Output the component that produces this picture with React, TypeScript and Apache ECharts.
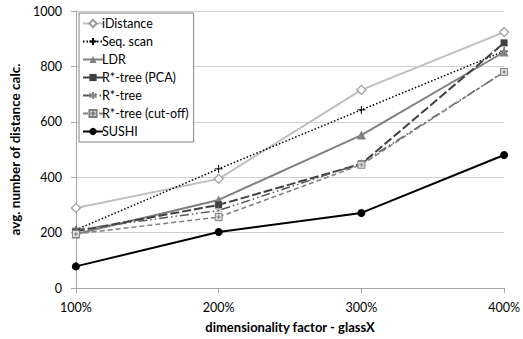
import React, { useEffect, useRef } from "react";
import * as echarts from "echarts";

const categories = ["100%", "200%", "300%", "400%"];
const iDistance = [289, 394, 715, 924];
const seqScan = [210, 430, 643, 855];
const ldr = [195, 318, 552, 852];
const rTreePCA = [205, 300, 448, 885];
const rTree = [210, 280, 450, 780];
const rTreeCutoff = [195, 256, 445, 780];
const sushi = [78, 202, 271, 480];
const yTicks = { min: 0, max: 1000, interval: 200 };

const FONT = "Lato, 'Noto Sans', sans-serif";

export default function App() {
  const ref = useRef<HTMLDivElement>(null);
  useEffect(() => {
    if (!ref.current) return;
    const chart = echarts.init(ref.current, null, { renderer: "svg" });
    const plus = "path://M5,0L5,10M0,5L10,5";
    const star = "path://M5,0L5,10M0,2.5L10,7.5M0,7.5L10,2.5";
    const boxPlus = "path://M0,0L10,0L10,10L0,10ZM5,2L5,8M2,5L8,5";
    const diamond = "path://M5,0L10,5L5,10L0,5Z";
    const mk = (
      name: string,
      data: number[],
      color: string,
      width: number,
      type: any,
      symbol: string,
      size: number,
      itemStyle: any
    ) => ({
      name,
      type: "line",
      data,
      symbol,
      symbolSize: size,
      showAllSymbol: true,
      lineStyle: { color, width, type },
      itemStyle,
      z: 3,
    });
    chart.setOption({
      animation: false,
      textStyle: { fontFamily: FONT },
      grid: { left: 67, right: 16, top: 11, bottom: 51, containLabel: false },
      legend: {
        orient: "vertical",
        left: 79,
        top: 13,
        padding: [4, 5, 4, 3],
        backgroundColor: "#ffffff",
        borderColor: "#808080",
        borderWidth: 1,
        itemWidth: 20,
        itemHeight: 9,
        itemGap: 5,
        textStyle: { fontFamily: FONT, fontSize: 12.5, color: "#000", padding: [0, 0, 0, -6] },
        data: [
          "iDistance",
          "Seq. scan",
          "LDR",
          "R*-tree (PCA)",
          "R*-tree",
          "R*-tree (cut-off)",
          "SUSHI",
        ],
      },
      xAxis: {
        type: "category",
        data: categories,
        boundaryGap: false,
        name: "dimensionality factor - glassX",
        nameLocation: "middle",
        nameGap: 32,
        nameTextStyle: { fontFamily: FONT, fontSize: 13, fontWeight: "bold", color: "#000" },
        axisLine: { lineStyle: { color: "#a6a6a6" } },
        axisTick: { show: true, length: 5, lineStyle: { color: "#a6a6a6" } },
        axisLabel: { fontFamily: FONT, fontSize: 12.5, color: "#000", margin: 13 },
        splitLine: { show: false },
      },
      yAxis: {
        type: "value",
        min: yTicks.min,
        max: yTicks.max,
        interval: yTicks.interval,
        name: "avg. number of distance calc.",
        nameLocation: "middle",
        nameGap: 50,
        nameTextStyle: { fontFamily: FONT, fontSize: 13.5, fontWeight: "bold", color: "#000" },
        axisLine: { show: true, lineStyle: { color: "#a6a6a6" } },
        axisTick: { show: true, length: 5, lineStyle: { color: "#a6a6a6" } },
        axisLabel: {
          fontFamily: FONT,
          fontSize: 12.5,
          color: "#000",
          margin: 14,
          formatter: (v: number) => String(v),
        },
        splitLine: { lineStyle: { color: "#d0d0d0" } },
      },
      series: [
        mk("iDistance", iDistance, "#bfbfbf", 2, "solid", diamond, 9, {
          color: "#ffffff",
          borderColor: "#999999",
          borderWidth: 1.2,
        }),
        mk("Seq. scan", seqScan, "#000000", 1.5, [1.5, 2], plus, 8, {
          color: "transparent",
          borderColor: "#000000",
          borderWidth: 1,
        }),
        mk("LDR", ldr, "#808080", 2, "solid", "triangle", 9, { color: "#808080" }),
        mk("R*-tree (PCA)", rTreePCA, "#404040", 2, [9, 3], "rect", 7, { color: "#404040" }),
        mk("R*-tree", rTree, "#595959", 1.5, [9, 3, 1.5, 3, 1.5, 3], star, 8, {
          color: "transparent",
          borderColor: "#8c8c8c",
          borderWidth: 0.7,
        }),
        mk("R*-tree (cut-off)", rTreeCutoff, "#808080", 1.5, [5, 3], boxPlus, 7, {
          color: "#e0e0e0",
          borderColor: "#808080",
          borderWidth: 1,
        }),
        mk("SUSHI", sushi, "#000000", 2, "solid", "circle", 8, { color: "#000000" }),
      ],
    });
    return () => chart.dispose();
  }, []);
  return (
    <div
      ref={ref}
      style={{ position: "absolute", left: 0, top: 0, width: 523, height: 339 }}
    />
  );
}
